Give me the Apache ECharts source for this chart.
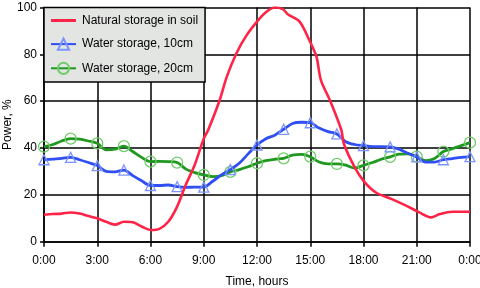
<!DOCTYPE html>
<html>
<head>
<meta charset="utf-8">
<script src="https://cdn.jsdelivr.net/npm/echarts@6/dist/echarts.min.js"></script>
<style>
  html, body { margin: 0; padding: 0; background: #fff; }
  #chart { width: 480px; height: 288px; }
</style>
</head>
<body>
<div id="chart"></div>
<script>
// hours of day for the soil curve
const soilHours = [0, 0.5, 1, 1.5, 2, 2.5, 3, 3.5, 4, 4.5, 5, 5.5, 6, 6.5, 7, 7.5, 8, 8.5, 9,
  9.25, 9.9, 10.3, 10.85, 11.4, 12, 12.5, 13, 13.45, 13.75, 14.4, 14.95, 15.35, 15.6, 16.1,
  16.75, 16.9, 17.5, 18, 18.7, 19.6, 20.4, 21.15, 21.8, 22.3, 23, 24];
const soilValues = [11.5, 11.8, 12, 12.5, 12, 11, 10, 8.5, 7.3, 8.5, 8.3, 6.5, 5, 5.5, 8.5, 15, 24.5, 33, 44,
  47.7, 60.5, 70.5, 80.6, 88, 94, 98, 100, 99.3, 97, 94, 86, 79, 69, 60.5,
  47.7, 41.7, 31.8, 26, 21, 18.2, 15.4, 12.5, 10.4, 11.8, 12.8, 12.8];

// half-hour steps for the two water storage curves
const waterHours = [];
for (let i = 0; i <= 48; i++) waterHours.push(i / 2);

const water10 = [35, 35.3, 35.6, 36, 35, 33.8, 32.5, 30, 29.8, 30.6, 28.2, 26, 24, 24, 24.2, 23.5,
  23.2, 23.3, 23.3, 25.8, 28.5, 30.8, 33.5, 37.5, 41.3, 44, 45.5, 48, 50.5, 51, 50.8, 48.5,
  47, 46, 42.7, 41.5, 41, 40.6, 40.6, 40.5, 39.5, 37.8, 36.2, 34, 34, 35, 35.5, 36, 36.3];
const water20 = [40.6, 41.5, 43, 44, 43.8, 43, 42, 39.2, 39.5, 40.8, 38.5, 36, 34.2, 34.3, 34.2, 33.8,
  31, 29.5, 28.5, 27.8, 28.2, 29.8, 30.8, 32, 33.5, 34.6, 35.2, 35.6, 37, 37.3, 36.3, 34,
  33.2, 33.2, 32.7, 31.4, 32.6, 33.8, 35.2, 36.2, 37.4, 37.5, 36.3, 34.6, 35.5, 38.5, 39.7, 41, 42.3];

const yTicks = [0, 20, 40, 60, 80, 100];
const seriesNames = ['Natural storage in soil', 'Water storage, 10cm', 'Water storage, 20cm'];

const font = 'Liberation Sans, Arial, sans-serif';

// markers every 1.5 h (every third half-hour point)
function withMarkers(vals) {
  return vals.map((v, i) => {
    const item = { value: [waterHours[i], v] };
    if (i % 3 !== 0) item.symbol = 'none';
    return item;
  });
}

const chart = echarts.init(document.getElementById('chart'));
chart.setOption({
  animation: false,
  grid: { left: 44, right: 10, top: 7.5, bottom: 46.3, containLabel: false, outerBoundsMode: 'none' },
  legend: {
    orient: 'vertical',
    left: 44,
    top: 7.5,
    padding: [7, 7, 7, 6],
    itemGap: 11,
    itemWidth: 25,
    itemHeight: 14,
    backgroundColor: '#e3e5e3',
    borderColor: '#000',
    borderWidth: 1.5,
    borderRadius: 0,
    data: [
      { name: seriesNames[0], icon: 'path://M0,0L25,0L25,3L0,3Z' },
      seriesNames[1],
      seriesNames[2]
    ],
    textStyle: { fontFamily: font, fontSize: 12, color: '#000', padding: [0, 0, 0, 1] }
  },
  xAxis: {
    type: 'value',
    min: 0,
    max: 24,
    interval: 3,
    name: 'Time, hours',
    nameLocation: 'middle',
    nameGap: 34,
    nameMoveOverlap: false,
    nameTextStyle: { fontFamily: font, fontSize: 12, color: '#000' },
    axisLine: { lineStyle: { color: '#000', width: 1.5 } },
    axisTick: { show: true, length: 5, lineStyle: { color: '#000', width: 1.5 } },
    axisLabel: {
      fontFamily: font, fontSize: 12, color: '#000', margin: 13,
      formatter: v => (v % 24) + ':00'
    },
    splitLine: { show: true, lineStyle: { color: '#000', width: 1.5 } }
  },
  yAxis: {
    type: 'value',
    min: yTicks[0],
    max: yTicks[yTicks.length - 1],
    interval: 20,
    name: 'Power, %',
    nameLocation: 'middle',
    nameGap: 30,
    nameMoveOverlap: false,
    nameTextStyle: { fontFamily: font, fontSize: 12, color: '#000' },
    axisLine: { show: true, lineStyle: { color: '#000', width: 1.5 } },
    axisTick: { show: true, length: 4, lineStyle: { color: '#000', width: 1.5 } },
    axisLabel: { fontFamily: font, fontSize: 12, color: '#000', margin: 7 },
    splitLine: { show: true, lineStyle: { color: '#000', width: 1.5 } }
  },
  series: [
    {
      name: seriesNames[0],
      type: 'line',
      symbol: 'none',
      smooth: 0.3,
      z: 4,
      data: soilHours.map((h, i) => [h, soilValues[i]]),
      itemStyle: { color: '#ff2447' },
      lineStyle: { color: '#ff2447', width: 2.6 }
    },
    {
      name: seriesNames[1],
      type: 'line',
      symbol: 'triangle',
      symbolSize: 10,
      showAllSymbol: true,
      smooth: 0.3,
      z: 3,
      data: withMarkers(water10),
      itemStyle: { color: 'rgba(255,255,255,0)', borderColor: '#7b95ff', borderWidth: 1.3 },
      lineStyle: { color: '#2f4ff2', width: 2.8 }
    },
    {
      name: seriesNames[2],
      type: 'line',
      symbol: 'circle',
      symbolSize: 11,
      showAllSymbol: true,
      smooth: 0.3,
      z: 2,
      data: withMarkers(water20),
      itemStyle: { color: 'rgba(255,255,255,0)', borderColor: '#70cc6a', borderWidth: 1.3 },
      lineStyle: { color: '#1f981f', width: 2.8 }
    }
  ]
});
</script>
</body>
</html>
